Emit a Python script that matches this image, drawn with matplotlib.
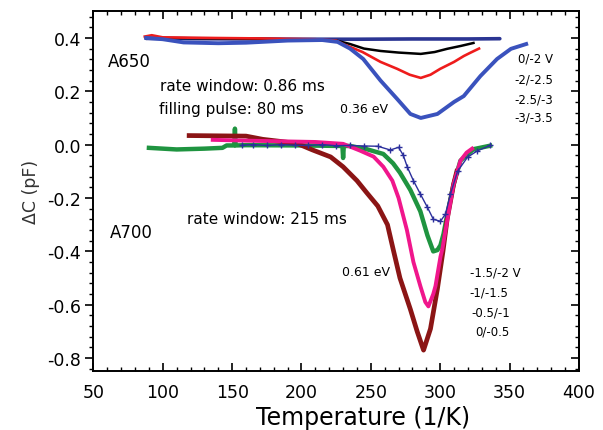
import matplotlib
matplotlib.use("Agg")
import matplotlib.pyplot as plt
from matplotlib.ticker import MultipleLocator

plt.rcParams['font.family'] = ['DejaVu Sans']

# ---- A650: rate window 0.86 ms ----
a650_labels = ["0/-2 V", "-2/-2.5", "-2.5/-3", "-3/-3.5"]

a650_flat_T = [88, 120, 160, 200, 240, 280, 320, 343]
a650_flat_dC = [0.398, 0.397, 0.396, 0.395, 0.395, 0.396, 0.396, 0.397]

a650_black_T = [88, 100, 130, 160, 200, 225, 235, 245, 257, 270, 286, 296, 305, 315, 324]
a650_black_dC = [0.40, 0.40, 0.398, 0.397, 0.394, 0.39, 0.377, 0.36, 0.351, 0.345, 0.34, 0.347, 0.359, 0.37, 0.381]

a650_red_T = [87, 92, 100, 130, 170, 210, 225, 230, 244, 257, 269, 278, 286, 293, 300, 310, 317, 322, 328]
a650_red_dC = [0.405, 0.41, 0.402, 0.40, 0.398, 0.395, 0.39, 0.377, 0.347, 0.31, 0.284, 0.262, 0.25, 0.262, 0.284, 0.31, 0.332, 0.345, 0.36]

a650_blue_T = [88, 100, 115, 140, 160, 190, 215, 226, 235, 244.5, 257, 269, 278.5, 286, 298, 310, 317, 329, 341, 351, 362]
a650_blue_dC = [0.40, 0.395, 0.383, 0.38, 0.382, 0.39, 0.392, 0.385, 0.36, 0.321, 0.24, 0.171, 0.115, 0.10, 0.115, 0.16, 0.182, 0.257, 0.321, 0.359, 0.377]

# ---- A700: rate window 215 ms ----
a700_labels = ["-1.5/-2 V", "-1/-1.5", "-0.5/-1", "0/-0.5"]

a700_maroon_T = [119, 140, 160, 172, 185, 197, 208, 221, 230, 240, 247, 255, 262, 266, 271, 278.5, 283.4,
                 288, 293, 298, 302, 305, 309.6, 312]
a700_maroon_dC = [0.034, 0.033, 0.032, 0.02, 0.012, 0.004, -0.02, -0.046, -0.083, -0.135, -0.18, -0.23, -0.30,
                  -0.39, -0.50, -0.617, -0.70, -0.77, -0.69, -0.54, -0.40, -0.28, -0.15, -0.10]

a700_pink_T = [136, 160, 190, 210, 230, 242, 252, 259, 265.5, 270, 276, 280.7, 285.7, 289.3, 291.5, 295,
               296.6, 300.2, 301.6, 305.2, 309.6, 314.6, 319, 323]
a700_pink_dC = [0.018, 0.015, 0.012, 0.01, 0.003, -0.022, -0.045, -0.083, -0.135, -0.20, -0.32, -0.44, -0.53,
                -0.59, -0.606, -0.56, -0.53, -0.42, -0.39, -0.28, -0.15, -0.06, -0.03, -0.015]

a700_green_T = [90, 110, 130, 143, 146, 151.5, 152, 152.5, 160, 200, 229.5, 230, 230.5, 235, 247, 259, 264,
                266, 271, 278.5, 285.7, 290.8, 295, 298, 300.2, 302.4, 305.2, 309.6, 314.6, 324, 336]
a700_green_dC = [-0.012, -0.018, -0.015, -0.012, -0.003, -0.003, 0.06, -0.003, -0.002, -0.003, -0.005, -0.05,
                 -0.005, -0.005, -0.017, -0.035, -0.06, -0.07, -0.105, -0.17, -0.25, -0.34, -0.40, -0.395,
                 -0.377, -0.335, -0.26, -0.15, -0.06, -0.017, -0.004]

a700_blue_T = [157, 165, 175, 185, 195, 205, 215, 225, 235, 245, 255, 264, 270, 273.4, 276.3, 280.7, 285.7,
               290.8, 295.1, 300.2, 303.8, 307.4, 312.5, 319.7, 326.9, 336]
a700_blue_dC = [-0.002, 0.0, -0.003, 0.0, -0.002, -0.003, 0.0, -0.004, -0.003, -0.005, -0.006, -0.02, -0.01,
                -0.04, -0.084, -0.135, -0.185, -0.235, -0.28, -0.287, -0.26, -0.185, -0.10, -0.047, -0.023,
                -0.003]

x_ticks = [50, 100, 150, 200, 250, 300, 350, 400]
y_ticks = [-0.8, -0.6, -0.4, -0.2, 0.0, 0.2, 0.4]

fig = plt.figure(figsize=(6.03, 4.31), dpi=100)
ax = fig.add_axes([0.155, 0.137, 0.805, 0.8353])

# upper set
ax.plot(a650_flat_T, a650_flat_dC, color='#2b3593', lw=2.6, solid_capstyle='round')
ax.plot(a650_black_T, a650_black_dC, color='black', lw=1.8)
ax.plot(a650_red_T, a650_red_dC, color='#ee1c1c', lw=1.9)
ax.plot(a650_blue_T, a650_blue_dC, color='#3a52bd', lw=2.8)

# lower set
ax.plot(a700_green_T, a700_green_dC, color='#1f9440', lw=3.2)
ax.plot(a700_maroon_T, a700_maroon_dC, color='#8b1515', lw=3.4)
ax.plot(a700_pink_T, a700_pink_dC, color='#f0168c', lw=2.8)
ax.plot(a700_blue_T, a700_blue_dC, color='#2b2f9c', lw=1.0, marker='+', ms=4, mew=1.0)

ax.set_xlim(50, 400)
ax.set_ylim(-0.848, 0.501)
ax.set_xticks(x_ticks)
ax.set_yticks(y_ticks)
ax.set_yticklabels([f"{v:.1f}" for v in y_ticks])
ax.xaxis.set_minor_locator(MultipleLocator(10))
ax.yaxis.set_minor_locator(MultipleLocator(0.04))

ax.tick_params(axis='x', which='both', direction='in', top=True, bottom=True, labelsize=12.5, pad=9)
ax.tick_params(axis='x', which='major', length=6, width=1.2)
ax.tick_params(axis='x', which='minor', length=3, width=1.0)
ax.tick_params(axis='y', which='both', direction='out', left=True, right=False, labelsize=12.5, pad=3)
ax.tick_params(axis='y', which='major', length=6, width=1.2)
ax.tick_params(axis='y', which='minor', length=3, width=1.0)

# inward ticks on the right spine
sec = ax.secondary_yaxis('right')
sec.set_yticks(y_ticks)
sec.yaxis.set_minor_locator(MultipleLocator(0.04))
sec.tick_params(which='both', direction='in', labelright=False)
sec.tick_params(which='major', length=6, width=1.2)
sec.tick_params(which='minor', length=3, width=1.0)
sec.spines['right'].set_linewidth(1.4)

for s in ax.spines.values():
    s.set_linewidth(1.4)

ax.set_xlabel("Temperature (1/K)", fontsize=17)
ax.xaxis.set_label_coords(0.555, -0.094)
ax.set_ylabel("\u0394C (pF)", fontsize=12.5, color='#333333', labelpad=5)

# annotations
ax.text(60.5, 0.314, "A650", fontsize=12, va='center')
ax.text(98, 0.22, "rate window: 0.86 ms", fontsize=11, va='center')
ax.text(97, 0.134, "filling pulse: 80 ms", fontsize=11, va='center')
ax.text(227.7, 0.134, "0.36 eV", fontsize=9, va='center')
a650_label_y = [0.324, 0.246, 0.171, 0.103]
for lab, yy in zip(a650_labels, a650_label_y):
    ax.text(381.3, yy, lab, fontsize=8.5, va='center', ha='right')

ax.text(61.9, -0.327, "A700", fontsize=12, va='center')
ax.text(117.4, -0.278, "rate window: 215 ms", fontsize=11, va='center')
ax.text(229.1, -0.477, "0.61 eV", fontsize=9, va='center')
a700_label_y = [-0.477, -0.553, -0.628, -0.699]
a700_label_x = [321.4, 321.4, 322.2, 325.0]
for lab, xx, yy in zip(a700_labels, a700_label_x, a700_label_y):
    ax.text(xx, yy, lab, fontsize=8.5, va='center', ha='left')

fig.savefig("out.png", dpi=100)
